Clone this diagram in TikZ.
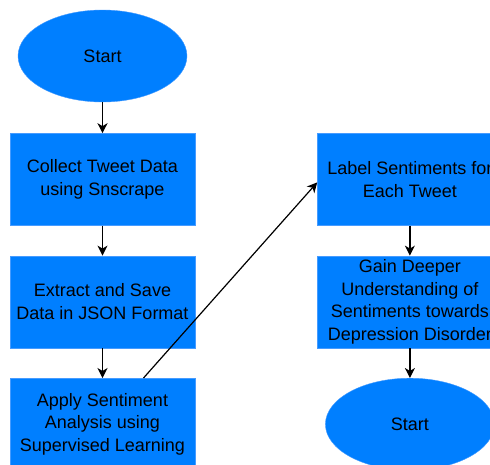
\documentclass[tikz,border=0pt]{standalone}
\usepackage{fontspec}
\setmainfont{Liberation Sans}
\usepackage{tikz}
\usetikzlibrary{shapes.geometric,arrows.meta,positioning}
\definecolor{bleuBoite}{RGB}{0,127,255}
\definecolor{bleuBord}{RGB}{70,155,255}

\begin{document}
\begin{tikzpicture}[x=1pt,y=-1pt,
  font=\fontsize{18}{22.5}\selectfont,
  boite/.style={rectangle,fill=bleuBoite,draw=bleuBord,minimum width=185pt,
                minimum height=92pt,inner sep=0pt,align=center},
  debut/.style={ellipse,fill=bleuBoite,draw=bleuBord,minimum width=169pt,
                minimum height=92pt,inner sep=0pt},
  fleche/.style={-{Stealth[length=10pt,width=10pt,inset=3pt]},line width=1.2pt}]
  \useasboundingbox (0,0) rectangle (490,464);
  \clip (0,0) rectangle (490,464);

  % Left column
  \node[debut] (start) at (102.5,56) {Start};
  \node[boite,below=31pt of start] (collect) {Collect Tweet Data\\using Snscrape};
  \node[boite,below=30pt of collect] (extract) {Extract and Save\\Data in JSON Format};
  \node[boite,below=30pt of extract] (apply) {Apply Sentiment\\Analysis using\\Supervised Learning};

  % Right column
  \node[boite,right=122pt of collect] (label) {Label Sentiments for\\Each Tweet};
  \node[boite,below=30pt of label] (gain) {Gain Deeper\\Understanding of\\Sentiments towards\\Depression Disorder};
  \node[debut,below=30pt of gain] (end) {Start};

  % Arrows
  \draw[fleche] (start) -- (collect);
  \draw[fleche] (collect) -- (extract);
  \draw[fleche] (extract) -- (apply);
  \draw[fleche] ([xshift=41pt]apply.north) -- ([yshift=-3pt]label.west);
  \draw[fleche] (label) -- (gain);
  \draw[fleche] (gain) -- (end);
\end{tikzpicture}
\end{document}
